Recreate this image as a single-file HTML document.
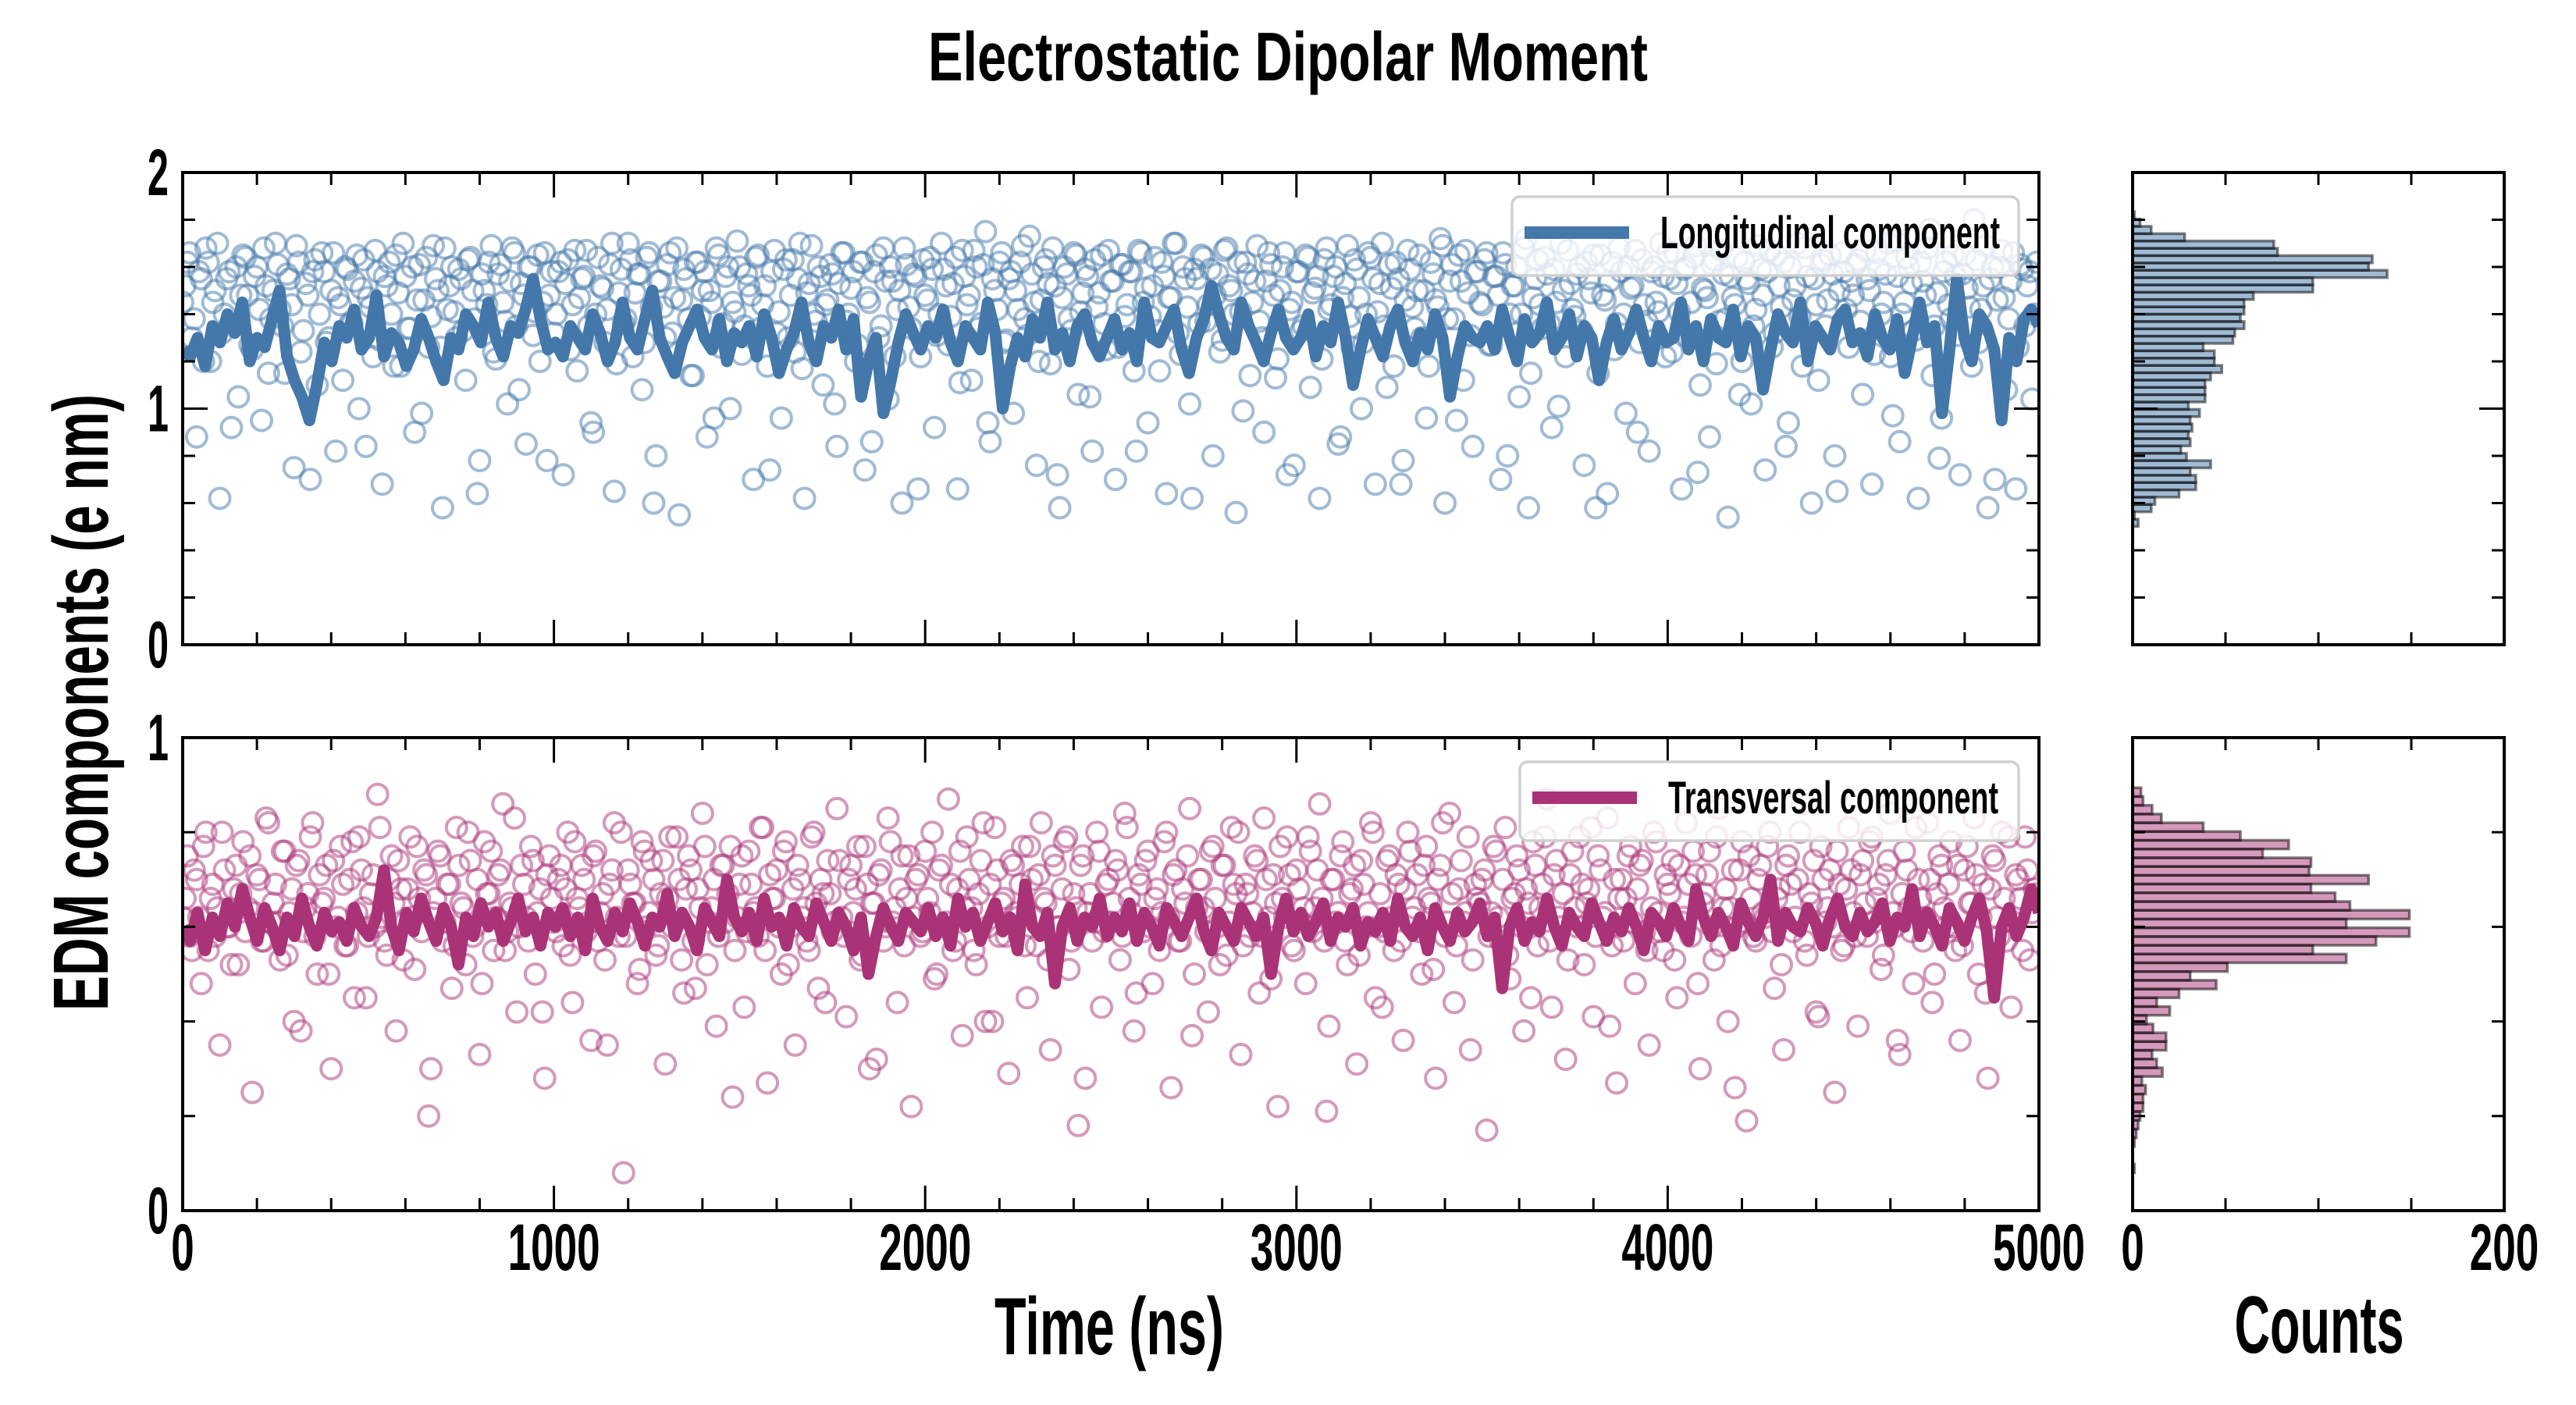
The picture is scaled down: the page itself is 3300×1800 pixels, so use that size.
<!DOCTYPE html>
<html><head><meta charset="utf-8">
<style>
html,body{margin:0;padding:0;background:#fff;}
svg{display:block;}
text{font-family:"Liberation Sans Narrow","Liberation Sans",sans-serif;font-weight:bold;fill:#000;}
</style></head>
<body>
<svg id="chart" xmlns="http://www.w3.org/2000/svg" width="3300" height="1800" viewBox="0 0 3300 1800">
<rect x="0" y="0" width="3300" height="1800" fill="#fff"/>
<defs>
<clipPath id="clipTop"><rect x="234" y="221" width="2378" height="605"/></clipPath>
<clipPath id="clipBot"><rect x="234" y="945" width="2378" height="606"/></clipPath>
</defs>
<text x="1650" y="103" font-size="88" text-anchor="middle" textLength="922" lengthAdjust="spacingAndGlyphs">Electrostatic Dipolar Moment</text>
<text transform="translate(138,900) rotate(-90)" font-size="100" text-anchor="middle" textLength="790" lengthAdjust="spacingAndGlyphs">EDM components (e nm)</text>
<text x="1421" y="1735" font-size="104" text-anchor="middle" textLength="294" lengthAdjust="spacingAndGlyphs">Time (ns)</text>
<text x="2971" y="1733" font-size="104" text-anchor="middle" textLength="217" lengthAdjust="spacingAndGlyphs">Counts</text>
<g id="layer"></g>
</svg>
<script>
const timeMax = 5000;
const longLine = [
1.25,1.22,1.30,1.18,1.35,1.28,1.40,1.32,1.45,1.20,1.30,1.26,1.38,1.50,1.22,1.12,1.05,0.95,1.10,1.28,1.20,1.35,1.30,1.42,1.25,
1.30,1.48,1.22,1.32,1.28,1.18,1.25,1.38,1.30,1.20,1.12,1.30,1.25,1.40,1.35,1.28,1.45,1.30,1.22,1.35,1.32,1.42,1.55,1.38,1.25,
1.28,1.22,1.35,1.30,1.25,1.40,1.32,1.20,1.28,1.45,1.30,1.25,1.38,1.50,1.30,1.22,1.15,1.28,1.35,1.42,1.30,1.25,1.38,1.20,1.32,
1.28,1.35,1.22,1.40,1.30,1.15,1.25,1.32,1.45,1.28,1.20,1.35,1.30,1.42,1.25,1.38,1.05,1.20,1.30,0.98,1.12,1.28,1.40,1.32,1.25,
1.35,1.30,1.42,1.28,1.20,1.35,1.30,1.25,1.45,1.32,1.00,1.18,1.30,1.22,1.38,1.30,1.45,1.25,1.32,1.20,1.35,1.40,1.28,1.22,1.30,
1.38,1.25,1.32,1.20,1.45,1.30,1.28,1.35,1.42,1.25,1.15,1.30,1.38,1.52,1.40,1.30,1.25,1.45,1.35,1.28,1.20,1.32,1.42,1.30,1.25,
1.30,1.40,1.22,1.35,1.28,1.45,1.30,1.10,1.25,1.38,1.30,1.22,1.35,1.42,1.28,1.20,1.32,1.25,1.40,1.30,1.05,1.22,1.35,1.30,1.28,
1.35,1.25,1.42,1.30,1.20,1.38,1.28,1.32,1.45,1.25,1.30,1.40,1.22,1.35,1.30,1.12,1.28,1.38,1.25,1.32,1.42,1.30,1.20,1.35,1.28,
1.30,1.45,1.25,1.35,1.20,1.38,1.30,1.28,1.42,1.22,1.35,1.30,1.08,1.25,1.40,1.32,1.28,1.45,1.20,1.35,1.30,1.25,1.38,1.42,1.28,
1.32,1.22,1.40,1.30,1.25,1.38,1.15,1.30,1.45,1.28,1.35,0.98,1.25,1.55,1.30,1.20,1.40,1.35,1.25,0.95,1.30,1.20,1.38,1.42,1.35];
const transLine = [
0.60,0.57,0.63,0.55,0.62,0.58,0.65,0.60,0.68,0.62,0.57,0.64,0.60,0.55,0.62,0.58,0.66,0.60,0.56,0.63,0.59,0.61,0.57,0.64,0.60,
0.58,0.62,0.72,0.60,0.55,0.63,0.59,0.66,0.61,0.57,0.64,0.60,0.52,0.62,0.58,0.65,0.60,0.63,0.57,0.61,0.66,0.59,0.62,0.56,0.63,
0.60,0.64,0.58,0.62,0.55,0.66,0.60,0.57,0.63,0.59,0.65,0.61,0.56,0.62,0.60,0.67,0.58,0.63,0.60,0.55,0.64,0.61,0.58,0.70,0.62,
0.59,0.63,0.57,0.66,0.60,0.62,0.56,0.64,0.60,0.58,0.65,0.61,0.57,0.63,0.60,0.55,0.62,0.50,0.58,0.64,0.60,0.57,0.63,0.61,0.59,
0.64,0.58,0.62,0.56,0.66,0.60,0.63,0.57,0.61,0.65,0.59,0.62,0.55,0.69,0.60,0.58,0.63,0.48,0.60,0.64,0.57,0.62,0.60,0.66,0.58,
0.62,0.59,0.65,0.57,0.63,0.60,0.56,0.64,0.61,0.58,0.62,0.66,0.59,0.55,0.63,0.60,0.57,0.64,0.61,0.58,0.62,0.50,0.60,0.66,0.59,
0.63,0.58,0.61,0.65,0.57,0.62,0.60,0.64,0.56,0.61,0.59,0.63,0.57,0.66,0.60,0.58,0.62,0.55,0.64,0.60,0.57,0.63,0.59,0.61,0.65,
0.58,0.62,0.47,0.60,0.64,0.57,0.61,0.59,0.66,0.60,0.56,0.63,0.60,0.58,0.65,0.61,0.57,0.62,0.59,0.64,0.60,0.55,0.63,0.61,0.58,
0.64,0.60,0.57,0.68,0.62,0.58,0.63,0.60,0.56,0.65,0.61,0.58,0.62,0.70,0.57,0.63,0.60,0.59,0.64,0.61,0.56,0.62,0.66,0.60,0.58,
0.63,0.59,0.61,0.65,0.57,0.62,0.60,0.68,0.58,0.63,0.60,0.56,0.64,0.61,0.57,0.62,0.66,0.59,0.45,0.60,0.64,0.58,0.62,0.68,0.63];
const longScatter = [
1.45,1.62,1.30,0.88,1.55,1.68,1.20,1.50,0.62,1.40,1.58,1.35,1.05,1.65,1.48,1.25,1.60,0.95,1.52,1.38,
1.70,1.42,1.15,1.55,0.75,1.62,1.33,1.48,1.58,1.10,1.66,1.28,1.50,0.82,1.44,1.60,1.36,1.54,1.00,1.63,
1.47,1.22,1.58,0.68,1.52,1.40,1.65,1.18,1.56,1.34,0.90,1.61,1.46,1.26,1.69,1.50,0.58,1.42,1.60,1.30,
1.55,1.12,1.64,1.38,0.78,1.50,1.62,1.24,1.57,1.45,1.02,1.68,1.35,1.53,0.85,1.60,1.41,1.20,1.66,1.48,
1.32,1.58,0.72,1.63,1.44,1.16,1.55,1.67,0.94,1.40,1.52,1.28,1.61,0.65,1.49,1.36,1.70,1.22,1.57,1.08,
1.64,1.43,0.80,1.54,1.30,1.66,1.47,0.55,1.59,1.38,1.14,1.62,1.50,0.88,1.45,1.68,1.26,1.56,1.00,1.41,
1.60,1.35,1.52,0.70,1.65,1.44,1.18,1.58,1.32,0.96,1.63,1.48,1.24,1.70,0.62,1.53,1.40,1.60,1.10,1.46,
1.57,0.84,1.66,1.37,1.51,1.20,1.62,0.74,1.45,1.58,1.30,1.68,1.04,1.54,1.42,0.60,1.61,1.34,1.56,1.22,
1.48,1.64,0.92,1.40,1.59,1.27,1.53,0.66,1.67,1.44,1.12,1.60,1.36,1.75,0.86,1.50,1.62,1.28,1.55,0.98,
1.42,1.69,1.31,1.57,0.76,1.46,1.63,1.19,1.52,0.58,1.60,1.38,1.66,1.06,1.49,1.56,0.82,1.43,1.65,1.25,
1.54,0.70,1.61,1.39,1.58,1.16,1.67,1.45,0.94,1.52,1.33,1.62,0.64,1.47,1.70,1.23,1.55,1.02,1.59,1.36,
1.64,1.44,0.80,1.57,1.29,1.68,1.50,0.56,1.41,1.62,1.14,1.54,1.37,0.90,1.66,1.48,1.21,1.60,0.72,1.45,
1.58,1.33,1.65,1.09,1.51,0.62,1.63,1.42,1.56,0.85,1.47,1.69,1.26,1.59,1.00,1.40,1.64,0.68,1.53,1.35,
1.61,1.18,1.55,0.78,1.67,1.43,1.50,1.30,0.96,1.62,1.46,1.72,0.60,1.54,1.38,1.65,1.12,1.49,0.84,1.58,
1.44,1.66,1.27,1.56,0.70,1.61,1.40,1.52,1.05,1.68,0.58,1.47,1.63,1.34,1.57,0.92,1.45,1.70,1.22,1.53,
1.39,1.60,0.76,1.55,1.65,1.15,1.48,0.64,1.62,1.36,1.58,0.98,1.51,1.67,1.28,1.44,0.82,1.60,1.41,1.56,
1.66,1.24,1.53,0.66,1.60,1.45,1.69,1.10,1.50,0.88,1.63,1.37,1.57,0.54,1.47,1.64,1.20,1.55,1.02,1.42,
1.59,0.74,1.67,1.32,1.52,1.62,0.94,1.46,1.70,1.18,1.56,0.60,1.44,1.61,1.35,1.65,0.80,1.50,1.58,1.26,
1.48,1.63,1.06,1.55,0.68,1.66,1.40,1.57,1.22,1.71,0.86,1.45,1.60,1.33,0.62,1.54,1.68,1.14,1.49,0.96,
1.62,1.38,1.56,0.72,1.65,1.43,1.80,1.28,1.52,0.58,1.60,1.46,1.67,1.08,1.54,0.66,1.61,1.35,1.58,1.40];
const longScatterB = [
1.52,1.66,1.38,1.58,1.20,1.62,1.45,1.70,1.32,1.55,0.92,1.60,1.48,1.64,1.27,1.56,1.42,1.68,1.15,1.50,
1.61,1.35,1.57,1.44,1.69,1.24,1.53,0.70,1.63,1.40,1.58,1.30,1.66,1.47,1.12,1.59,1.36,1.65,1.51,0.84,
1.43,1.67,1.29,1.56,1.62,1.18,1.49,1.70,1.34,1.60,1.46,0.98,1.64,1.39,1.55,1.26,1.68,1.52,1.41,1.59,
1.33,1.63,1.50,0.64,1.57,1.44,1.69,1.21,1.61,1.37,1.54,1.66,1.08,1.48,1.60,1.31,1.65,1.45,0.78,1.58,
1.40,1.62,1.53,1.25,1.67,1.47,1.56,1.35,0.90,1.64,1.51,1.42,1.70,1.19,1.59,1.38,1.63,1.49,1.57,1.28,
1.66,0.60,1.54,1.43,1.61,1.32,1.68,1.46,1.55,1.14,1.62,1.39,1.58,1.50,0.96,1.65,1.36,1.60,1.45,1.71,
1.23,1.57,1.48,1.64,1.34,1.52,0.74,1.67,1.41,1.59,1.30,1.63,1.55,1.17,1.49,1.69,1.37,1.56,1.44,1.61,
1.02,1.53,1.66,1.40,1.58,1.27,1.62,1.47,0.86,1.65,1.35,1.54,1.60,1.22,1.50,1.68,1.43,1.57,0.66,1.63,
1.46,1.59,1.31,1.70,1.52,1.39,1.64,1.11,1.56,1.48,1.67,1.34,1.61,0.94,1.55,1.42,1.66,1.29,1.58,1.50,
1.62,1.38,1.73,1.45,1.20,1.60,1.53,1.68,0.72,1.47,1.57,1.33,1.65,1.41,1.59,1.05,1.63,1.49,1.36,1.67,
1.54,1.26,1.61,1.44,1.58,0.82,1.66,1.51,1.39,1.64,1.16,1.56,1.47,1.70,1.32,1.60,1.43,0.62,1.55,1.65,
1.37,1.59,1.48,1.24,1.67,1.52,1.40,1.62,0.99,1.57,1.45,1.69,1.30,1.54,1.61,1.13,1.50,1.66,1.42,0.76,
1.58,1.35,1.64,1.49,1.56,1.21,1.68,1.44,1.60,0.88,1.53,1.39,1.63,1.47,1.28,1.66,1.55,1.41,1.70,1.09,
1.51,1.62,0.68,1.46,1.59,1.34,1.65,1.50,1.18,1.57,1.43,1.69,1.38,1.61,0.95,1.54,1.67,1.31,1.58,1.45,
1.63,1.27,1.56,1.48,1.66,0.80,1.52,1.60,1.40,1.72,1.15,1.55,1.44,1.64,1.36,1.59,1.01,1.50,1.67,1.42,
1.57,1.33,1.62,1.49,0.58,1.65,1.46,1.54,1.25,1.68,1.40,1.60,1.52,0.90,1.63,1.37,1.58,1.45,1.70,1.22,
1.55,1.66,1.41,1.59,1.30,1.64,0.73,1.51,1.47,1.61,1.19,1.67,1.38,1.56,1.44,1.06,1.62,1.53,1.35,1.69,
1.48,1.58,1.26,1.65,1.43,0.84,1.60,1.52,1.39,1.68,1.32,1.55,1.12,1.63,1.46,1.57,0.65,1.66,1.42,1.54,
1.61,1.37,1.67,1.50,1.23,1.59,1.45,1.70,0.97,1.56,1.40,1.64,1.53,1.29,1.62,1.48,1.76,1.35,0.79,1.58,
1.44,1.65,1.31,1.57,1.51,1.18,1.63,1.42,1.69,1.55,0.70,1.60,1.47,1.38,1.66,1.26,1.59,1.52,1.04,1.62];
const transScatter = [
0.62,0.75,0.55,0.70,0.48,0.80,0.66,0.58,0.35,0.72,0.60,0.68,0.52,0.78,0.64,0.25,0.71,0.57,0.83,0.61,
0.69,0.53,0.76,0.63,0.40,0.74,0.59,0.67,0.82,0.50,0.65,0.73,0.30,0.60,0.77,0.56,0.70,0.45,0.79,0.64,
0.58,0.71,0.88,0.62,0.54,0.75,0.38,0.68,0.61,0.79,0.51,0.66,0.72,0.20,0.63,0.76,0.57,0.69,0.47,0.81,
0.65,0.52,0.74,0.60,0.33,0.78,0.67,0.55,0.71,0.86,0.59,0.64,0.42,0.73,0.62,0.77,0.50,0.68,0.28,0.75,
0.61,0.70,0.56,0.80,0.44,0.66,0.73,0.59,0.36,0.76,0.63,0.53,0.69,0.82,0.58,0.08,0.72,0.65,0.48,0.78,
0.60,0.74,0.54,0.67,0.31,0.79,0.62,0.70,0.46,0.75,0.57,0.68,0.84,0.52,0.64,0.39,0.73,0.61,0.77,0.55,
0.69,0.43,0.76,0.63,0.58,0.81,0.27,0.66,0.72,0.50,0.78,0.60,0.35,0.70,0.64,0.55,0.80,0.47,0.67,0.74,
0.59,0.85,0.62,0.41,0.73,0.68,0.53,0.77,0.30,0.65,0.71,0.57,0.83,0.61,0.44,0.75,0.66,0.22,0.70,0.58,
0.76,0.63,0.49,0.72,0.60,0.87,0.55,0.68,0.37,0.79,0.64,0.52,0.74,0.40,0.69,0.81,0.58,0.66,0.29,0.73,
0.62,0.77,0.45,0.70,0.56,0.82,0.65,0.34,0.73,0.60,0.78,0.51,0.67,0.18,0.75,0.63,0.57,0.80,0.43,0.69,
0.61,0.74,0.53,0.84,0.66,0.38,0.71,0.59,0.76,0.48,0.68,0.63,0.80,0.26,0.72,0.57,0.65,0.85,0.50,0.70,
0.64,0.42,0.77,0.60,0.73,0.54,0.81,0.67,0.33,0.69,0.58,0.75,0.46,0.83,0.62,0.71,0.22,0.66,0.79,0.56,
0.72,0.61,0.48,0.76,0.64,0.86,0.57,0.39,0.70,0.63,0.78,0.52,0.68,0.31,0.74,0.60,0.82,0.45,0.67,0.59,
0.75,0.55,0.69,0.36,0.80,0.62,0.71,0.50,0.77,0.65,0.28,0.73,0.58,0.84,0.44,0.68,0.61,0.79,0.53,0.66,
0.70,0.17,0.63,0.76,0.57,0.81,0.49,0.67,0.72,0.38,0.65,0.78,0.56,0.69,0.87,0.43,0.74,0.60,0.32,0.71,
0.64,0.79,0.52,0.68,0.41,0.75,0.62,0.83,0.56,0.27,0.70,0.66,0.77,0.48,0.73,0.59,0.35,0.80,0.63,0.55,
0.69,0.74,0.45,0.61,0.82,0.58,0.71,0.30,0.67,0.76,0.53,0.85,0.64,0.40,0.72,0.60,0.78,0.19,0.66,0.57,
0.73,0.62,0.80,0.47,0.68,0.34,0.75,0.59,0.70,0.86,0.54,0.65,0.42,0.77,0.61,0.72,0.25,0.69,0.56,0.81,
0.63,0.39,0.74,0.58,0.79,0.66,0.51,0.71,0.84,0.60,0.33,0.76,0.64,0.48,0.70,0.57,0.82,0.44,0.67,0.73,
0.60,0.78,0.55,0.36,0.72,0.65,0.83,0.50,0.69,0.28,0.75,0.62,0.80,0.57,0.43,0.71,0.66,0.79,0.53,0.68];
const transScatterB = [
0.66,0.58,0.72,0.62,0.77,0.55,0.69,0.64,0.80,0.60,0.52,0.73,0.67,0.59,0.75,0.63,0.70,0.57,0.82,0.65,
0.61,0.76,0.54,0.68,0.73,0.38,0.64,0.79,0.58,0.71,0.66,0.50,0.74,0.62,0.69,0.56,0.78,0.63,0.72,0.45,
0.67,0.60,0.81,0.57,0.70,0.65,0.74,0.53,0.68,0.62,0.77,0.59,0.71,0.30,0.66,0.75,0.61,0.69,0.56,0.73,
0.64,0.80,0.58,0.70,0.48,0.67,0.76,0.62,0.72,0.55,0.65,0.83,0.60,0.69,0.57,0.74,0.63,0.42,0.71,0.66,
0.59,0.73,0.68,0.54,0.78,0.64,0.70,0.61,0.75,0.57,0.67,0.35,0.72,0.62,0.80,0.58,0.69,0.65,0.51,0.76,
0.63,0.70,0.56,0.74,0.66,0.60,0.79,0.53,0.68,0.72,0.47,0.64,0.77,0.61,0.70,0.58,0.73,0.67,0.24,0.62,
0.75,0.59,0.69,0.64,0.81,0.55,0.71,0.66,0.60,0.76,0.52,0.68,0.73,0.62,0.57,0.79,0.65,0.70,0.44,0.67,
0.61,0.74,0.58,0.70,0.63,0.77,0.54,0.69,0.65,0.32,0.72,0.60,0.78,0.64,0.68,0.56,0.75,0.62,0.71,0.59,
0.66,0.80,0.50,0.73,0.61,0.69,0.57,0.76,0.64,0.70,0.55,0.67,0.82,0.60,0.40,0.72,0.65,0.58,0.74,0.63,
0.69,0.56,0.77,0.62,0.71,0.66,0.53,0.75,0.60,0.68,0.79,0.57,0.64,0.73,0.28,0.67,0.61,0.76,0.59,0.70,
0.65,0.72,0.58,0.81,0.63,0.46,0.69,0.74,0.60,0.66,0.55,0.78,0.62,0.71,0.57,0.68,0.75,0.37,0.64,0.70,
0.59,0.76,0.66,0.52,0.73,0.61,0.69,0.80,0.56,0.67,0.63,0.74,0.58,0.70,0.49,0.65,0.77,0.62,0.71,0.55,
0.68,0.64,0.79,0.59,0.72,0.66,0.21,0.70,0.61,0.75,0.57,0.67,0.73,0.54,0.69,0.63,0.80,0.60,0.43,0.74,
0.62,0.71,0.57,0.68,0.76,0.64,0.59,0.73,0.66,0.51,0.70,0.82,0.61,0.67,0.56,0.74,0.63,0.34,0.69,0.65,
0.72,0.58,0.77,0.62,0.70,0.54,0.66,0.75,0.60,0.68,0.45,0.73,0.64,0.79,0.57,0.71,0.62,0.67,0.53,0.76,
0.60,0.69,0.65,0.81,0.58,0.72,0.63,0.39,0.70,0.66,0.57,0.75,0.61,0.68,0.74,0.55,0.64,0.78,0.59,0.71,
0.67,0.53,0.73,0.62,0.69,0.76,0.48,0.65,0.71,0.60,0.79,0.56,0.68,0.64,0.26,0.72,0.61,0.75,0.58,0.70,
0.63,0.77,0.59,0.66,0.52,0.73,0.69,0.62,0.80,0.57,0.67,0.74,0.41,0.70,0.64,0.60,0.76,0.55,0.68,0.72,
0.58,0.71,0.65,0.78,0.61,0.69,0.54,0.74,0.63,0.36,0.67,0.72,0.59,0.81,0.66,0.62,0.70,0.50,0.75,0.64,
0.69,0.60,0.73,0.56,0.77,0.65,0.71,0.62,0.46,0.68,0.74,0.58,0.66,0.79,0.61,0.70,0.55,0.72,0.63,0.67];
const longHistLow = 0.501;
const longHistWidth = 0.031;
const longHistCounts = [3,1,10,12,25,34,34,31,42,29,26,31,30,32,31,36,30,39,39,39,42,48,44,44,38,54,55,60,58,60,60,65,97,97,137,127,129,78,76,28,10,4,1];
const transHistLow = 0.08;
const transHistWidth = 0.0185;
const transHistCounts = [1,0,0,1,2,3,4,5.6,5.6,7,5,16,13,10.5,18,18,11,7.5,20,13,25,45,31,51,115,97,131,149,115,149,117,109,96,127,95,96,70,84,58,38,15.5,10.5,5.6,4.5];
const xTickLabels = ["0","1000","2000","3000","4000","5000"];
const countTickLabels = ["0","200"];

const NS = "http://www.w3.org/2000/svg";
const layer = document.getElementById('layer');
function mk(tag, attrs, parent){
  const e = document.createElementNS(NS, tag);
  for (const k in attrs) e.setAttribute(k, attrs[k]);
  (parent||layer).appendChild(e);
  return e;
}
const L = 234, R = 2612, HL = 2732, HR = 3208;
const panels = [
  {top:221, bot:826, ymax:2, line:longLine, scatters:[longScatter,longScatterB], hLow:longHistLow, hW:longHistWidth, hC:longHistCounts,
   color:"#4477aa", rgb:"68,119,170", clip:"clipTop", name:"longitudinal", label:"Longitudinal component", yLabels:["0","1","2"], xLabels:false, leg:{x:1937,y:252,w:649,h:101,lx1:1953,lx2:2087,tx:2127,tl:435}},
  {top:945, bot:1551, ymax:1, line:transLine, scatters:[transScatter,transScatterB], hLow:transHistLow, hW:transHistWidth, hC:transHistCounts,
   color:"#aa3377", rgb:"170,51,119", clip:"clipBot", name:"transversal", label:"Transversal component", yLabels:["0","1"], xLabels:true, leg:{x:1947,y:976,w:639,h:101,lx1:1963,lx2:2097,tx:2137,tl:423}}
];
const xScale = t => L + (R-L)*t/timeMax;
const cScale = c => HL + (HR-HL)*c/200;

panels.forEach(p => {
  const yScale = v => p.bot - (p.bot-p.top)*v/p.ymax;
  const sg = mk('g', {'clip-path':`url(#${p.clip})`});
  
  
  p.scatters.forEach((arr,k) => {
    arr.forEach((v,i) => {
      const c = mk('circle', {cx:xScale((i+k*0.5)*timeMax/arr.length), cy:yScale(v), r:13, fill:'none', stroke:`rgba(${p.rgb},0.5)`, 'stroke-width':4}, sg);
      
      
    });
  });
  const pts = p.line.map((v,i) => xScale(i*timeMax/(p.line.length-1)).toFixed(1)+','+yScale(v).toFixed(1)).join(' ');
  const pl = mk('polyline', {points:pts, fill:'none', stroke:p.color, 'stroke-width':15, 'stroke-linejoin':'round', 'clip-path':`url(#${p.clip})`});
  
  
  const hg = mk('g', {});
  
  
  p.hC.forEach((c,i) => {
    const y1 = yScale(p.hLow + (i+1)*p.hW), y0 = yScale(p.hLow + i*p.hW);
    const b = mk('rect', {x:HL, y:y1, width:Math.max(0,cScale(c)-HL), height:y0-y1, fill:`rgba(${p.rgb},0.5)`, stroke:'rgba(0,0,0,0.5)', 'stroke-width':3.5}, hg);
    
    
  });
  [[L,R],[HL,HR]].forEach(([a,b],k) => {
    const fr = mk('rect', {x:a, y:p.top, width:b-a, height:p.bot-p.top, fill:'none', stroke:'#000', 'stroke-width':4});
    
    
  });
  const nY = Math.round(p.ymax/0.2);
  for (let j=0;j<=nY;j++){
    const v = j*0.2, y = yScale(v);
    const major = Math.abs(v - Math.round(v)) < 1e-6;
    const len = major?32:16;
    [[L,1],[R,-1],[HL,1],[HR,-1]].forEach(([x,d]) => {
      mk('line', {x1:x, x2:x+d*len, y1:y, y2:y, stroke:'#000', 'stroke-width':3});
    });
  }
  p.yLabels.forEach(s => {
    const t = mk('text', {x:216, y:yScale(+s)+29, 'font-size':84, 'text-anchor':'end', textLength:27, lengthAdjust:'spacingAndGlyphs'});
    t.textContent = s;
    
    
  });
  for (let t=0;t<=timeMax;t+=200){
    const x = xScale(t), len = (t%1000===0)?32:16;
    mk('line', {x1:x, x2:x, y1:p.bot, y2:p.bot-len, stroke:'#000', 'stroke-width':3});
    mk('line', {x1:x, x2:x, y1:p.top, y2:p.top+len, stroke:'#000', 'stroke-width':3});
  }
  for (let c=0;c<=200;c+=50){
    const x = cScale(c), len = (c%200===0)?32:16;
    mk('line', {x1:x, x2:x, y1:p.bot, y2:p.bot-len, stroke:'#000', 'stroke-width':3});
    mk('line', {x1:x, x2:x, y1:p.top, y2:p.top+len, stroke:'#000', 'stroke-width':3});
  }
  if (p.xLabels){
    xTickLabels.forEach(s => {
      const t = mk('text', {x:xScale(+s), y:1627, 'font-size':84, 'text-anchor':'middle', textLength:29.5*s.length, lengthAdjust:'spacingAndGlyphs'});
      t.textContent = s;
      
      
    });
    countTickLabels.forEach(s => {
      const t = mk('text', {x:cScale(+s), y:1627, 'font-size':84, 'text-anchor':'middle', textLength:29.5*s.length, lengthAdjust:'spacingAndGlyphs'});
      t.textContent = s;
      
      
    });
  }
  const lg = mk('g', {});
  
  
  const q = p.leg;
  mk('rect', {x:q.x, y:q.y, width:q.w, height:q.h, rx:10, fill:'rgba(255,255,255,0.8)', stroke:'#d0d0d0', 'stroke-width':3.5}, lg);
  mk('line', {x1:q.lx1, x2:q.lx2, y1:q.y+46, y2:q.y+46, stroke:p.color, 'stroke-width':16}, lg);
  const lt = mk('text', {x:q.tx, y:q.y+66, 'font-size':58, textLength:q.tl, lengthAdjust:'spacingAndGlyphs'}, lg);
  lt.textContent = p.label;
  
  
});
</script>
</body></html>
